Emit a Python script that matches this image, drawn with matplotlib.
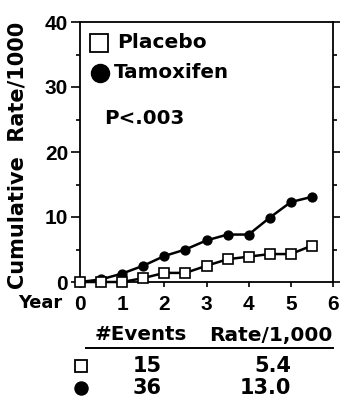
import matplotlib
matplotlib.use("Agg")
import matplotlib.pyplot as plt
from matplotlib.lines import Line2D

plt.rcParams['font.family'] = ['DejaVu Sans']
plt.rcParams['font.weight'] = 'bold'
NUM = 'Liberation Sans'
WORD = ['DejaVu Sans']

years = [0, 0.5, 1, 1.5, 2, 2.5, 3, 3.5, 4, 4.5, 5, 5.5]
placebo = [0, 0, 0, 0.6, 1.4, 1.4, 2.5, 3.5, 3.9, 4.3, 4.3, 5.6]
tamoxifen = [0, 0.4, 1.3, 2.5, 4.0, 5.0, 6.4, 7.3, 7.3, 9.9, 12.3, 13.1]
series_names = ["Placebo", "Tamoxifen"]
events = ["15", "36"]
rates = ["5.4", "13.0"]
p_text = "P<.003"
x_ticks = [0, 1, 2, 3, 4, 5, 6]
y_ticks = [0, 10, 20, 30, 40]

W, H = 340, 399
fig = plt.figure(figsize=(W / 100, H / 100), dpi=100)
L, R, T, B = 80, 333, 22, 282
ax = fig.add_axes([L / W, 1 - B / H, (R - L) / W, (B - T) / H])

lw = 1.8
ax.plot(years, tamoxifen, color='black', lw=lw, marker='o', ms=6.4,
        mfc='black', mec='black', clip_on=False, zorder=3)
ax.plot(years, placebo, color='black', lw=lw, marker='s', ms=7.0,
        mfc='white', mec='black', mew=1.2, clip_on=False, zorder=4)

ax.set_xlim(0, 6)
ax.set_ylim(0, 40)
ax.set_xticks(x_ticks)
ax.set_yticks(y_ticks)
ax.set_yticks([5, 15, 25, 35], minor=True)
ax.tick_params(axis='y', which='major', left=True, right=True, length=6.5,
               width=1.2, direction='out', pad=2, labelsize=15,
               labelfontfamily=NUM)
ax.tick_params(axis='y', which='minor', left=True, right=True, length=3,
               width=1.2, direction='out')
ax.tick_params(axis='x', which='major', length=3.6, width=1.2,
               direction='out', pad=5.5, labelsize=15, labelfontfamily=NUM)
for s in ax.spines.values():
    s.set_linewidth(1.3)

ax.set_ylabel("Cumulative  Rate/1000", fontsize=15, fontweight='bold',
              family=WORD)
ax.yaxis.label.set_va('center')
ax.yaxis.set_label_coords((18 - L) / (R - L), (B - 155) / (B - T))
fig.text(40 / W, 1 - 303 / H, "Year", fontsize=12.8, fontweight='bold',
         ha='center', va='center', family=WORD)

# legend
def ax_xy(px, py):
    return (px - L) / (R - L), (B - py) / (B - T)

x0, y0 = ax_xy(99, 43)
x1, y1 = ax_xy(100, 73)
ax.plot([x0], [y0], transform=ax.transAxes, marker='s', ms=12.5,
        mfc='white', mec='black', mew=1.3, ls='none', clip_on=False)
ax.plot([x1], [y1], transform=ax.transAxes, marker='o', ms=13,
        mfc='black', mec='black', ls='none', clip_on=False)
tx, _ = ax_xy(117, 0)
ax.text(tx, y0, series_names[0], transform=ax.transAxes, fontsize=14.5,
        fontweight='bold', va='center', ha='left', family=WORD)
tx, _ = ax_xy(114, 0)
ax.text(tx, y1, series_names[1], transform=ax.transAxes, fontsize=14.3,
        fontweight='bold', va='center', ha='left', family=WORD)
px_, py_ = ax_xy(104, 118)
ax.text(px_, py_, p_text, transform=ax.transAxes, fontsize=14.3,
        fontweight='bold', va='center', ha='left', family=WORD)

# table below
fy = lambda y: 1 - y / H
fx = lambda x: x / W
fig.text(fx(141), fy(335), "#Events", fontsize=14.3, fontweight='bold',
         ha='center', va='center', family=WORD)
fig.text(fx(271), fy(335), "Rate/1,000", fontsize=14.5, fontweight='bold',
         ha='center', va='center', family=WORD)
fig.add_artist(Line2D([fx(86), fx(333)], [fy(348), fy(348)], color='black',
                      lw=1.4, transform=fig.transFigure))
row_y = [366, 388]
mk = [dict(marker='s', mfc='white', mec='black', mew=1.3, ms=8.6),
      dict(marker='o', mfc='black', mec='black', ms=9.4)]
for i in range(2):
    fig.add_artist(Line2D([fx(81)], [fy(row_y[i])], ls='none',
                          transform=fig.transFigure, **mk[i]))
    fig.text(fx(147), fy(row_y[i]), events[i], fontsize=15, fontweight='bold',
             ha='center', va='center', family=WORD)
    fig.text(fx(291), fy(row_y[i]), rates[i], fontsize=15, fontweight='bold',
             ha='right', va='center', family=WORD)

fig.savefig("out.png", dpi=100)
